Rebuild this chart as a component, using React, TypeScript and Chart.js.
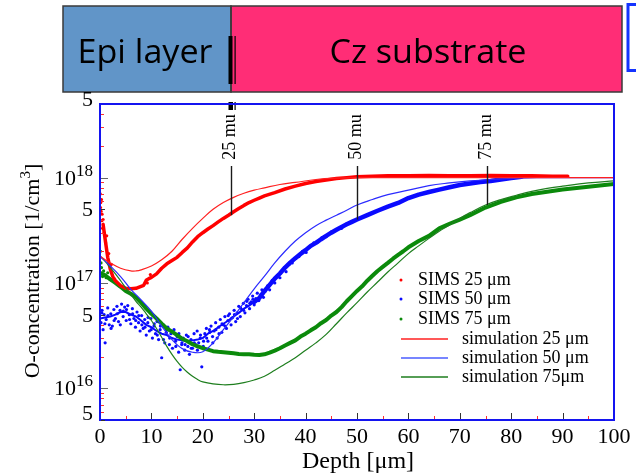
import React, { useEffect, useRef } from "react";
import { Chart, registerables } from "chart.js";
Chart.register(...registerables);

// ---------- data (depth in µm, O-concentration in 1/cm^3) ----------
const redSimsX = [0.6,1,1.5,2,2.5,3,4,5,6,7,8,8.5,9,9.5,10,11,12,13,14,15,16,17,18,19,20,21,22,23,24,25,26,27,28,29,30,31,32,34,36,38,40,42,44,46,48,50,53,56,60,64,68,72,76,80,84,88,91];
const redSimsY = [3.6e17,2.6e17,1.75e17,1.35e17,1.15e17,1.05e17,9.4e16,8.9e16,8.8e16,8.9e16,9.3e16,9.5e16,1.06e17,1.1e17,1.13e17,1.22e17,1.38e17,1.52e17,1.63e17,1.75e17,1.95e17,2.15e17,2.45e17,2.75e17,3.0e17,3.25e17,3.5e17,3.8e17,4.1e17,4.4e17,4.75e17,5.1e17,5.45e17,5.8e17,6.1e17,6.4e17,6.7e17,7.2e17,7.8e17,8.3e17,8.8e17,9.2e17,9.5e17,9.8e17,1.0e18,1.02e18,1.03e18,1.04e18,1.04e18,1.05e18,1.04e18,1.04e18,1.05e18,1.04e18,1.04e18,1.03e18,1.03e18];
const redCloudX = [0.05,0.1,0.15,0.2,0.3,0.35,0.4,0.5,0.6,0.8,1.1,1.3,1.7,2.2,9.2,9.8];
const redCloudY = [7e17,5.2e17,5.8e17,4.8e17,6.2e17,3.9e17,4.5e17,3.3e17,4.0e17,3.0e17,2.4e17,2.8e17,1.9e17,1.5e17,1.0e17,1.2e17];

const blueSimsX = [0,1,2,3,4,5,6,7,8,9,10,11,12,13,14,15,16,17,18,19,20,21,22,23,24,25,26,27,28,29,30,31,32,33,34,35,36,37,38,39,40,41,42,43,44,45,46,47,48,49,50,52,54,56,58,60,62,64,66,68,70,72,74,76,78,80,82];
const blueSimsY = [4.6e16,4.7e16,4.8e16,5.0e16,5.3e16,5.3e16,5.0e16,4.8e16,4.4e16,4.0e16,3.8e16,3.5e16,3.3e16,3.2e16,3.0e16,2.9e16,2.85e16,2.8e16,2.85e16,2.9e16,3.0e16,3.3e16,3.5e16,3.8e16,4.1e16,4.4e16,4.8e16,5.2e16,5.7e16,6.1e16,6.6e16,7.2e16,8.4e16,9.6e16,1.1e17,1.23e17,1.4e17,1.56e17,1.72e17,1.88e17,2.05e17,2.25e17,2.4e17,2.6e17,2.8e17,3.0e17,3.2e17,3.4e17,3.6e17,3.8e17,4.0e17,4.4e17,4.85e17,5.3e17,5.75e17,6.4e17,6.9e17,7.3e17,7.7e17,8.1e17,8.5e17,8.8e17,9.1e17,9.3e17,9.6e17,9.9e17,1.02e18];
const blueCloudX = [0.2,0.4,0.6,0.8,1.0,1.2,1.5,1.8,2.1,2.4,2.7,3.0,3.3,3.6,3.9,4.2,4.5,4.8,5.1,5.4,5.7,6.0,6.3,6.6,6.9,7.2,7.5,7.8,8.1,8.4,8.7,9.0,9.3,9.6,9.9,10.2,10.5,10.8,11.1,11.4,11.7,12.0,12.3,12.6,12.9,13.2,13.5,13.8,14.1,14.4,14.7,15.0,15.3,15.6,15.9,16.2,16.5,16.8,17.1,17.4,17.7,18.0,18.3,18.6,18.9,19.2,19.5,19.8,20.1,20.4,20.7,21.0,21.3,21.6,21.9,22.2,22.5,22.8,23.1,23.4,23.7,24.0,24.3,24.6,24.9,25.2,25.5,25.8,26.1,26.4,26.7,27.0,27.3,27.6,27.9,28.2,28.5,28.8,29.1,29.4,29.7,30.0,30.3,30.6,30.9,31.2,31.5,31.8,32.1,32.6,33.0,33.5,34.0,34.5,35.0,35.6,36.2,36.8,37.4,38.0,38.7,39.4,40.1,40.8,41.6,42.4,43.2,44.0,45.0,46.0,47.0,48.0];
const blueCloudY = [4.2e16,5.5e16,3.6e16,5.0e16,2.7e16,4.5e16,5.8e16,4.0e16,5.1e16,3.9e16,5.6e16,4.6e16,6.0e16,4.3e16,5.5e16,6.3e16,4.8e16,5.9e16,4.4e16,6.1e16,5.0e16,4.1e16,5.7e16,4.6e16,3.8e16,5.3e16,4.2e16,3.5e16,4.9e16,3.7e16,4.5e16,3.2e16,4.2e16,3.5e16,4.6e16,3.0e16,3.9e16,3.3e16,4.3e16,2.9e16,3.6e16,1.95e16,4.0e16,2.7e16,3.4e16,3.8e16,2.6e16,3.3e16,2.4e16,3.6e16,2.8e16,3.1e16,2.2e16,1.5e16,2.6e16,3.0e16,2.3e16,3.2e16,2.5e16,2.1e16,2.9e16,2.4e16,3.3e16,2.6e16,3.5e16,2.7e16,3.0e16,1.6e16,2.5e16,3.3e16,3.7e16,2.8e16,3.6e16,3.9e16,3.1e16,3.5e16,4.2e16,3.0e16,3.8e16,4.5e16,3.4e16,4.0e16,4.8e16,3.7e16,4.4e16,5.1e16,4.0e16,4.7e16,5.5e16,4.3e16,5.2e16,6.0e16,4.8e16,5.6e16,6.4e16,5.2e16,6.1e16,7.0e16,5.7e16,6.6e16,7.5e16,6.2e16,7.1e16,8.0e16,6.8e16,7.7e16,8.6e16,7.3e16,8.3e16,9.4e16,8.6e16,1.06e17,1.0e17,1.18e17,1.12e17,1.32e17,1.28e17,1.5e17,1.55e17,1.7e17,1.78e17,2.0e17,1.95e17,2.2e17,2.4e17,2.45e17,2.7e17,2.75e17,3.05e17,3.2e17,3.3e17,3.65e17];
const blueCloud2X = [0.35,0.95,1.55,2.15,2.75,3.35,3.95,4.55,5.15,5.75,6.35,6.95,7.55,8.15,8.75,9.35,9.95,10.55,11.15,11.75,12.35,12.95,13.55,14.15,14.75,15.35,15.95,16.55,17.15,17.75,18.35,18.95,19.55,20.15,20.75,21.35,21.95,22.55,23.15,23.75,24.35,24.95,25.55,26.15,26.75,27.35,27.95,28.55,29.15,29.75];
const blueCloud2Y = [5.2e16,4.1e16,4.9e16,3.7e16,4.4e16,5.1e16,4.0e16,5.4e16,5.6e16,4.5e16,5.1e16,4.4e16,4.9e16,4.0e16,3.8e16,4.7e16,3.6e16,4.1e16,3.2e16,3.9e16,2.9e16,3.6e16,3.0e16,3.4e16,2.5e16,3.3e16,2.7e16,2.6e16,3.1e16,2.4e16,2.7e16,2.3e16,3.2e16,2.8e16,3.0e16,3.4e16,2.7e16,3.6e16,3.3e16,4.1e16,3.9e16,4.9e16,4.6e16,5.0e16,4.6e16,5.8e16,5.5e16,6.7e16,6.4e16,7.0e16];

const greenSimsX = [0,1,2,3,4,5,6,7,8,9,10,11,12,13,14,15,16,17,18,19,20,21,22,23,24,25,26,27,28,29,30,31,32,33,34,35,36,37,38,39,40,41,42,43,44,45,46,47,48,49,50,51,52,53,54,55,56,57,58,59,60,62,64,66,68,70,72,75,78,81,84,87,90,95,100];
const greenSimsY = [1.25e17,1.18e17,1.08e17,1.0e17,9.2e16,8.4e16,7.9e16,7.3e16,6.5e16,5.7e16,5.1e16,4.6e16,4.1e16,3.7e16,3.45e16,3.2e16,2.95e16,2.8e16,2.62e16,2.5e16,2.4e16,2.33e16,2.25e16,2.22e16,2.2e16,2.18e16,2.15e16,2.12e16,2.1e16,2.1e16,2.08e16,2.07e16,2.1e16,2.18e16,2.28e16,2.4e16,2.55e16,2.7e16,2.85e16,3.1e16,3.3e16,3.55e16,3.8e16,4.15e16,4.45e16,4.9e16,5.3e16,5.9e16,6.7e16,7.5e16,8.4e16,9.3e16,1.05e17,1.17e17,1.3e17,1.42e17,1.55e17,1.7e17,1.85e17,2.0e17,2.18e17,2.5e17,2.8e17,3.3e17,3.65e17,4.0e17,4.4e17,5.2e17,5.9e17,6.5e17,7.0e17,7.35e17,7.7e17,8.2e17,8.7e17];
const greenCloudX = [0.1,0.2,0.3,0.5,0.7,1.2,1.5];
const greenCloudY = [2.0e17,1.55e17,1.4e17,1.15e17,1.3e17,1.12e17,1.25e17];

const redSimX = [0,2,4,6,7,8,10,12,14,16,18,20,22,24,26,28,30,32,35,38,42,46,50,60,80,100];
const redSimY = [1.8e17,1.55e17,1.38e17,1.3e17,1.3e17,1.33e17,1.45e17,1.66e17,2.0e17,2.6e17,3.3e17,4.1e17,5.0e17,5.8e17,6.5e17,7.1e17,7.6e17,8.0e17,8.6e17,9.0e17,9.6e17,9.9e17,1.0e18,1.0e18,1.0e18,1.0e18];

const blueSimX = [0,2,4,6,8,10,12,14,16,18,20,22,24,26,28,30,32,34,36,38,40,42,44,46,48,50,53,56,60,64,68,72,76,80,85,90,100];
const blueSimY = [1.8e17,1.45e17,1.15e17,8.7e16,6.9e16,5.4e16,3.9e16,2.9e16,2.38e16,2.2e16,2.22e16,2.7e16,3.6e16,4.8e16,6.5e16,8.8e16,1.16e17,1.55e17,2.0e17,2.5e17,3.0e17,3.5e17,3.95e17,4.4e17,4.9e17,5.5e17,6.2e17,6.9e17,7.6e17,8.4e17,8.9e17,9.3e17,9.6e17,9.8e17,1.0e18,1.0e18,1.0e18];

const greenSimX = [0,1,2,3,4,5,6,7,8,9,10,11,12,13,14,15,16,17,18,19,20,22,24,26,28,30,32,34,36,38,40,42,44,46,48,50,52,54,56,58,60,62,64,66,68,70,72,75,78,81,84,87,90,95,100];
const greenSimY = [1.8e17,1.6e17,1.4e17,1.22e17,1.05e17,9.0e16,7.8e16,6.7e16,5.9e16,5.1e16,4.4e16,3.7e16,3.05e16,2.5e16,2.1e16,1.8e16,1.58e16,1.42e16,1.3e16,1.21e16,1.15e16,1.1e16,1.08e16,1.09e16,1.13e16,1.2e16,1.3e16,1.48e16,1.7e16,1.95e16,2.3e16,2.7e16,3.25e16,4.1e16,5.2e16,6.5e16,8.2e16,1.02e17,1.27e17,1.55e17,1.9e17,2.25e17,2.65e17,3.1e17,3.55e17,4.1e17,4.65e17,5.5e17,6.2e17,6.8e17,7.4e17,7.9e17,8.3e17,8.9e17,9.3e17];

// ---------- axis / annotation text ----------
const xTickValues = [0,10,20,30,40,50,60,70,80,90,100];
const yTickValues = [5e15,1e16,5e16,1e17,5e17,1e18,5e18];
const yTickBases = ["5","10","5","10","5","10","5"];
const yTickExps = ["","16","","17","","18",""];
const markerDepths = [25.5, 50, 75.3];
const markerEnds = [4.4e17, 4.0e17, 5.5e17];
const markerLabels = ["25 mu", "50 mu", "75 mu"];
const legendLabels = ["SIMS 25 \u03bcm","SIMS 50 \u03bcm","SIMS 75 \u03bcm","simulation 25 \u03bcm","simulation 50 \u03bcm","simulation 75\u03bcm"];
const legendColors = ["#ff0000","#0a0aff","#0b8a0b","#ff2020","#4a5cff","#1e7e1e"];

const RED = "#ff0000", BLUE = "#0a0aff", GREEN = "#0b8a0b";
const SERIF = '"Liberation Serif", "Times New Roman", serif';

const pts = (xs: number[], ys: number[]) => xs.map((x, i) => ({ x, y: ys[i] }));

function fitText(ctx: CanvasRenderingContext2D, text: string, cx: number, base: number, font: string, target: number) {
  ctx.font = font;
  const w = ctx.measureText(text).width;
  ctx.save();
  ctx.translate(cx, base);
  ctx.scale(target / w, 1);
  ctx.textAlign = "center";
  ctx.textBaseline = "alphabetic";
  ctx.fillText(text, 0, 0);
  ctx.restore();
}

const decor = {
  id: "decor",
  afterDraw(chart: any) {
    const { ctx, chartArea: a, scales } = chart;
    const xs = scales.x, ys = scales.y;
    ctx.save();

    // top boxes
    ctx.fillStyle = "#6195c8";
    ctx.fillRect(63, 6, 168, 86);
    ctx.fillStyle = "#ff2d76";
    ctx.fillRect(231, 6, 391, 86);
    ctx.strokeStyle = "#3a3a3a";
    ctx.lineWidth = 1.5;
    ctx.strokeRect(63, 6, 168, 86);
    ctx.strokeRect(231, 6, 391, 86);
    ctx.fillStyle = "#000";
    fitText(ctx, "Epi layer", 145, 63, '33px "Open Sans", sans-serif', 135);
    fitText(ctx, "Cz substrate", 428, 63, '33px "Open Sans", sans-serif', 197);
    ctx.fillStyle = "#000";
    ctx.fillRect(228.5, 36, 4, 48);
    ctx.fillRect(234.5, 36, 1.2, 48);
    ctx.fillRect(228.5, 102, 4.5, 8);
    ctx.fillRect(234.5, 102, 1.2, 8);
    ctx.strokeStyle = "#1433ff";
    ctx.lineWidth = 3;
    ctx.strokeRect(628, 4.5, 20, 66);

    // markers
    ctx.strokeStyle = "#1a1a1a";
    ctx.lineWidth = 1.4;
    ctx.fillStyle = "#000";
    ctx.font = "18px " + SERIF;
    markerDepths.forEach((d, i) => {
      const px = Math.round(xs.getPixelForValue(d)) + 0.5;
      ctx.beginPath();
      ctx.moveTo(px, 166);
      ctx.lineTo(px, ys.getPixelForValue(markerEnds[i]));
      ctx.stroke();
      ctx.save();
      ctx.translate(px - 1, 137);
      ctx.rotate(-Math.PI / 2);
      ctx.textAlign = "center";
      ctx.textBaseline = "middle";
      ctx.fillText(markerLabels[i], 0, 0);
      ctx.restore();
    });

    // frame
    ctx.strokeStyle = "#1414f0";
    ctx.lineWidth = 2;
    ctx.strokeRect(a.left, a.top, a.right - a.left, a.bottom - a.top);

    // x ticks
    ctx.lineWidth = 1;
    for (let v = 5; v < 100; v += 5) {
      const px = Math.round(xs.getPixelForValue(v)) + 0.5;
      const major = v % 10 === 0;
      ctx.strokeStyle = major ? "#333" : "#ff3030";
      ctx.beginPath();
      ctx.moveTo(px, a.bottom - 1);
      ctx.lineTo(px, a.bottom - (major ? 7 : 4));
      ctx.stroke();
    }
    // y ticks
    for (let d = 15; d <= 18; d++) {
      for (let m = 1; m <= 9; m++) {
        const v = m * Math.pow(10, d);
        if (v < 5e15 || v >= 5e18) continue;
        const py = Math.round(ys.getPixelForValue(v)) + 0.5;
        let len = 4, col = "#ff3030";
        if (m === 1) { len = 8; col = "#666"; }
        else if (m === 5) { len = 5; col = "#333"; }
        ctx.strokeStyle = col;
        ctx.beginPath();
        ctx.moveTo(a.left + 1, py);
        ctx.lineTo(a.left + len, py);
        ctx.stroke();
      }
    }

    // x tick labels
    ctx.fillStyle = "#000";
    ctx.font = "22px " + SERIF;
    ctx.textAlign = "center";
    ctx.textBaseline = "alphabetic";
    xTickValues.forEach((v) => {
      ctx.fillText(String(v), xs.getPixelForValue(v), 443);
    });
    // y tick labels
    const right = 93;
    yTickValues.forEach((v, i) => {
      let py = ys.getPixelForValue(v);
      if (i === yTickValues.length - 1) py = 99;
      if (i === 0) py = 413;
      const base = py + 7;
      ctx.textAlign = "left";
      ctx.font = "17px " + SERIF;
      const we = yTickExps[i] ? ctx.measureText(yTickExps[i]).width : 0;
      if (yTickExps[i]) ctx.fillText(yTickExps[i], right - we, base - 9);
      ctx.font = "22px " + SERIF;
      ctx.textAlign = "right";
      ctx.fillText(yTickBases[i], right - we, base);
    });

    // axis titles
    ctx.font = "24px " + SERIF;
    ctx.textAlign = "center";
    ctx.fillText("Depth [\u03bcm]", 358, 468);
    ctx.save();
    ctx.translate(31, 271);
    ctx.rotate(-Math.PI / 2);
    const t1 = "O-concentration [1/cm", t2 = "3", t3 = "]";
    ctx.font = "22px " + SERIF;
    const w1 = ctx.measureText(t1).width, w3 = ctx.measureText(t3).width;
    ctx.font = "15px " + SERIF;
    const w2 = ctx.measureText(t2).width;
    const sx = -(w1 + w2 + w3) / 2;
    ctx.textAlign = "left";
    ctx.font = "22px " + SERIF;
    ctx.fillText(t1, sx, 8);
    ctx.font = "15px " + SERIF;
    ctx.fillText(t2, sx + w1, -1);
    ctx.font = "22px " + SERIF;
    ctx.fillText(t3, sx + w1 + w2, 8);
    ctx.restore();

    // legend
    const ly = [280, 299, 319, 339, 358, 377];
    ctx.font = "18px " + SERIF;
    ctx.textBaseline = "middle";
    ctx.textAlign = "left";
    legendLabels.forEach((lab, i) => {
      if (i < 3) {
        ctx.fillStyle = legendColors[i];
        ctx.beginPath();
        ctx.arc(401, ly[i], 1.5, 0, Math.PI * 2);
        ctx.fill();
        ctx.fillStyle = "#000";
        ctx.fillText(lab, 418, ly[i]);
      } else {
        ctx.strokeStyle = legendColors[i];
        ctx.lineWidth = 1.5;
        ctx.beginPath();
        ctx.moveTo(401, ly[i]);
        ctx.lineTo(448, ly[i]);
        ctx.stroke();
        ctx.fillStyle = "#000";
        ctx.fillText(lab, 462, ly[i]);
      }
    });
    ctx.restore();
  },
};

export default function App() {
  const ref = useRef<HTMLCanvasElement>(null);
  useEffect(() => {
    document.body.style.margin = "0";
    const canvas = ref.current!;
    const simLine = (color: string, xs: number[], ysv: number[]) => ({
      data: pts(xs, ysv), showLine: true, borderColor: color, borderWidth: 1.2,
      pointRadius: 0, fill: false, tension: 0.4,
    });
    const simsLine = (color: string, xs: number[], ysv: number[], w: number, thinBelow = -1) => ({
      data: pts(xs, ysv), showLine: true, borderColor: color, borderWidth: w,
      pointRadius: 0, fill: false, borderJoinStyle: "round" as const, borderCapStyle: "round" as const,
      segment: { borderWidth: (c: any) => (c.p0.parsed.x < thinBelow ? 2 : w) },
    });
    const cloud = (color: string, xs: number[], ysv: number[]) => ({
      data: pts(xs, ysv), showLine: false, pointRadius: 1.6, pointBorderWidth: 0,
      backgroundColor: color, borderColor: color,
    });
    const chart = new Chart(canvas, {
      type: "scatter",
      data: {
        datasets: [
          simLine("#ff2020", redSimX, redSimY),
          simLine("#2b2bff", blueSimX, blueSimY),
          simLine("#1e7e1e", greenSimX, greenSimY),
          simsLine(RED, redSimsX, redSimsY, 3.5),
          simsLine(GREEN, greenSimsX, greenSimsY, 4),
          simsLine(BLUE, blueSimsX, blueSimsY, 4.5, 30),
          cloud(RED, redCloudX, redCloudY),
          cloud(GREEN, greenCloudX, greenCloudY),
          cloud(BLUE, blueCloudX, blueCloudY),
          cloud(BLUE, blueCloud2X, blueCloud2Y),
        ] as any,
      },
      options: {
        animation: false,
        responsive: false,
        devicePixelRatio: 1,
        events: [],
        layout: { padding: { left: 100, right: 22, top: 104, bottom: 55 } },
        scales: {
          x: { type: "linear", min: 0, max: 100, display: false },
          y: { type: "logarithmic", min: 5e15, max: 5e18, display: false },
        },
        plugins: { legend: { display: false }, tooltip: { enabled: false } },
      },
      plugins: [decor],
    });
    return () => chart.destroy();
  }, []);
  return <canvas ref={ref} width={636} height={475} style={{ display: "block" }} />;
}
